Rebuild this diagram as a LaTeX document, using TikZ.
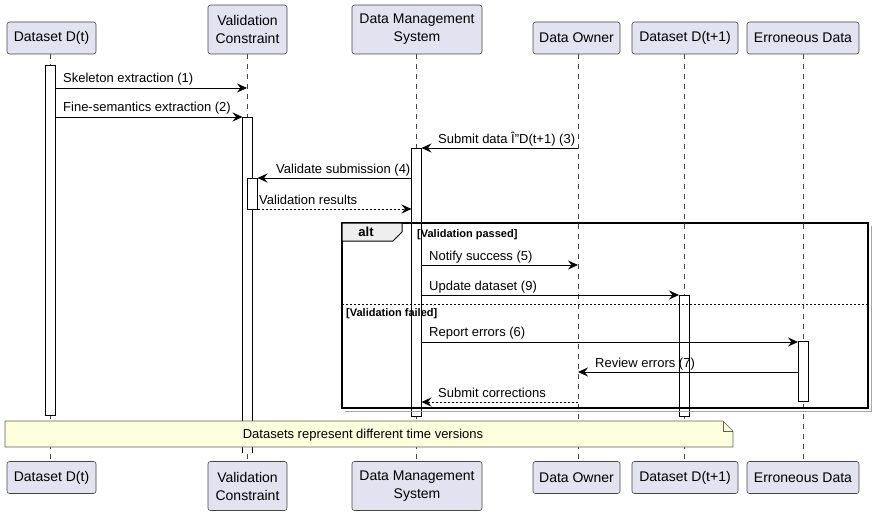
\documentclass[tikz,border=0pt]{standalone}
\usepackage{fontspec}
\setmainfont{Liberation Sans}
\usetikzlibrary{arrows.meta}
\definecolor{partfill}{HTML}{E2E2F0}
\definecolor{linegray}{HTML}{181818}
\definecolor{notefill}{HTML}{FEFFDD}
\definecolor{tabfill}{HTML}{EEEEEE}
\begin{document}
\begin{tikzpicture}[x=1pt,y=-1pt,
  participant/.style={draw=linegray!80, fill=partfill, rounded corners=2.5pt, line width=0.6pt,
     align=center, font=\fontsize{14}{18}\selectfont, inner sep=0pt},
  lifeline/.style={draw=linegray!80, line width=0.5pt, dash pattern=on 5pt off 5pt},
  act/.style={draw=black, fill=white, line width=0.8pt},
  msg/.style={-{Stealth[length=10pt,width=9pt,inset=3.5pt]}, line width=0.8pt, black},
  ret/.style={msg, dash pattern=on 2pt off 2pt},
  lbl/.style={font=\fontsize{13}{15}\selectfont, anchor=base west, inner sep=0pt},
  guard/.style={font=\fontsize{11}{13}\selectfont\bfseries, anchor=base west, inner sep=0pt}]
\useasboundingbox (0,0) rectangle (875,516);

% participants (top)
\node[participant, minimum width=89pt, minimum height=32pt] (a1) at (51.5,38) {Dataset D(t)};
\node[participant, minimum width=79pt, minimum height=49pt] (b1) at (247.5,29.5) {Validation\\Constraint};
\node[participant, minimum width=130pt, minimum height=49pt] (c1) at (417,29.5) {Data Management\\System};
\node[participant, minimum width=87pt, minimum height=32pt] (d1) at (576.5,38) {Data Owner};
\node[participant, minimum width=106pt, minimum height=32pt] (e1) at (685,38) {Dataset D(t+1)};
\node[participant, minimum width=112pt, minimum height=32pt] (f1) at (803,38) {Erroneous Data};
% participants (bottom)
\node[participant, minimum width=89pt, minimum height=32pt] (a2) at (51.5,477.5) {Dataset D(t)};
\node[participant, minimum width=79pt, minimum height=49pt] (b2) at (247.5,486) {Validation\\Constraint};
\node[participant, minimum width=130pt, minimum height=49pt] (c2) at (417,486) {Data Management\\System};
\node[participant, minimum width=87pt, minimum height=32pt] (d2) at (576.5,477.5) {Data Owner};
\node[participant, minimum width=106pt, minimum height=32pt] (e2) at (685,477.5) {Dataset D(t+1)};
\node[participant, minimum width=112pt, minimum height=32pt] (f2) at (803,477.5) {Erroneous Data};

% lifelines
\coordinate (la1) at (50,54);  \coordinate (la2) at (50,461);
\coordinate (lb1) at (247,54); \coordinate (lb2) at (247,461);
\coordinate (lc1) at (416,54); \coordinate (lc2) at (416,461);
\coordinate (ld1) at (578,54); \coordinate (ld2) at (578,461);
\coordinate (le1) at (684,54); \coordinate (le2) at (684,461);
\coordinate (lf1) at (803,54); \coordinate (lf2) at (803,461);
\foreach \p in {a,b,c,d,e,f} {\draw[lifeline] (l\p1) -- (l\p2);}

% activation bars
\draw[act] (45,65) rectangle (55,415);
\fill[white] (242.5,117) rectangle (252.5,453);
\draw[line width=0.8pt] (242.5,453) -- (242.5,117) -- (252.5,117) -- (252.5,453);
\draw[act] (247.5,178) rectangle (257.5,209);
\draw[act] (411.5,148) rectangle (421.5,416);
\draw[act] (679,295) rectangle (689,416);
\draw[act] (798,341) rectangle (808,401);

% alt frame
\draw[gray!70, line width=1pt] (871,226) -- (871,411) -- (345,411);
\draw[line width=1.5pt] (342,223) rectangle (868,408);
\filldraw[fill=tabfill, draw=black, line width=1pt] (342,223) -- (402,223) -- (402,232) -- (393,241) -- (342,241) -- cycle;
\node[font=\fontsize{13}{15}\selectfont\bfseries, inner sep=0pt] (alt) at (366,232) {alt};
\node[guard] (g1) at (417,237) {[Validation passed]};
\draw[line width=0.6pt, dash pattern=on 2pt off 2pt] (342,304) -- (868,304);
\node[guard] (g2) at (346,316) {[Validation failed]};

% messages
\coordinate (m1s) at (55,88);    \coordinate (m1e) at (247,88);
\draw[msg] (m1s) -- (m1e);
\node[lbl] (t1) at (63,83) {Skeleton extraction (1)};
\coordinate (m2s) at (55,117);   \coordinate (m2e) at (242.5,117);
\draw[msg] (m2s) -- (m2e);
\node[lbl] (t2) at (63,112) {Fine-semantics extraction (2)};
\coordinate (m3s) at (578,148);  \coordinate (m3e) at (421.5,148);
\draw[msg] (m3s) -- (m3e);
\node[lbl] (t3) at (438,143) {Submit data Î”D(t+1) (3)};
\coordinate (m4s) at (411.5,178); \coordinate (m4e) at (257.5,178);
\draw[msg] (m4s) -- (m4e);
\node[lbl] (t4) at (276,173) {Validate submission (4)};
\coordinate (m5s) at (257.5,209); \coordinate (m5e) at (411.5,209);
\draw[ret] (m5s) -- (m5e);
\node[lbl] (t5) at (259,204) {Validation results};
\coordinate (m6s) at (421.5,265); \coordinate (m6e) at (578,265);
\draw[msg] (m6s) -- (m6e);
\node[lbl] (t6) at (429,260) {Notify success (5)};
\coordinate (m7s) at (421.5,295); \coordinate (m7e) at (679,295);
\draw[msg] (m7s) -- (m7e);
\node[lbl] (t7) at (429,290) {Update dataset (9)};
\coordinate (m8s) at (421.5,342); \coordinate (m8e) at (798,342);
\draw[msg] (m8s) -- (m8e);
\node[lbl] (t8) at (429,336) {Report errors (6)};
\coordinate (m9s) at (798,372);  \coordinate (m9e) at (578,372);
\draw[msg] (m9s) -- (m9e);
\node[lbl] (t9) at (595,367) {Review errors (7)};
\coordinate (m10s) at (578,402); \coordinate (m10e) at (421.5,402);
\draw[ret] (m10s) -- (m10e);
\node[lbl] (t10) at (438,397) {Submit corrections};

% note
\filldraw[fill=notefill, draw=linegray!70, line width=0.6pt]
  (5,421) -- (723,421) -- (733,431) -- (733,447) -- (5,447) -- cycle;
\draw[draw=linegray!70, line width=0.6pt] (723,421) -- (723,431) -- (733,431);
\node[font=\fontsize{13}{15}\selectfont, inner sep=0pt] (note) at (363,435) {Datasets represent different time versions};
\end{tikzpicture}
\end{document}
